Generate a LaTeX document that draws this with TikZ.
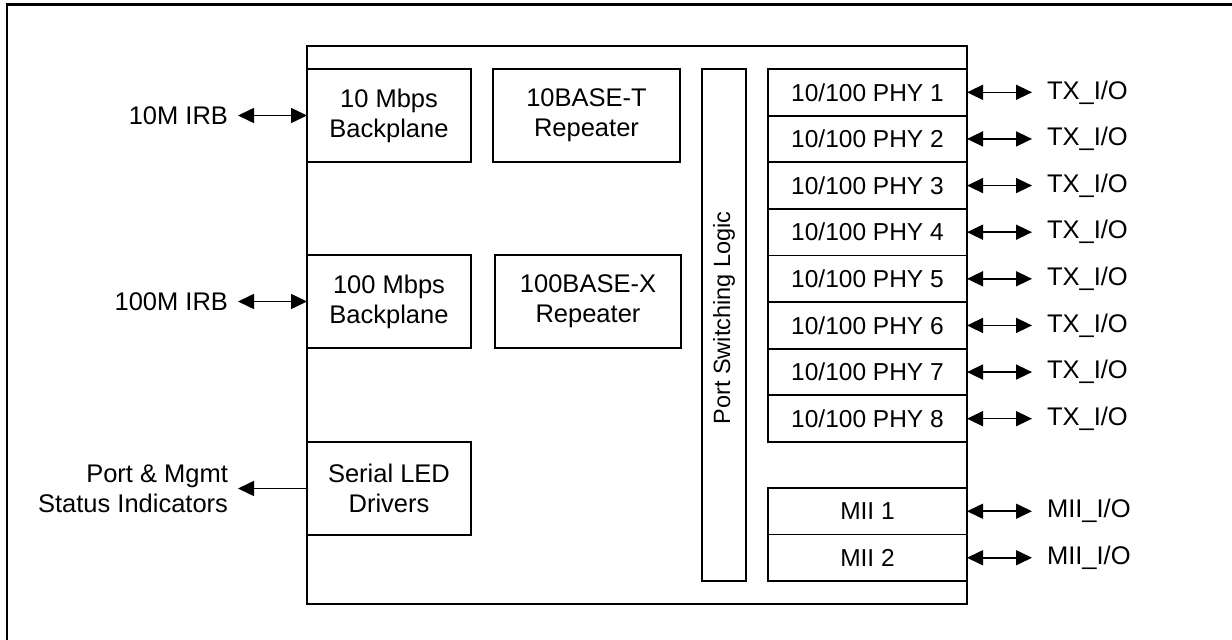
\documentclass[tikz,border=0pt]{standalone}
\usepackage{fontspec}
\setmainfont{Liberation Sans}
\usetikzlibrary{arrows.meta}
\begin{document}
\begin{tikzpicture}[x=1bp,y=-1bp,
  font=\fontsize{25.5bp}{30bp}\selectfont,
  blk/.style={draw, line width=1.8bp, inner sep=0pt, outer sep=0pt, align=center},
  boxfont/.style={font=\fontsize{24.5bp}{29.5bp}\selectfont},
  lbl/.style={inner ysep=2bp, outer sep=0pt},
  biarrow/.style={line width=1.6bp, {Triangle[length=16bp,width=15bp]}-{Triangle[length=16bp,width=15bp]}},
  outarrow/.style={line width=1.6bp, -{Triangle[length=16bp,width=15bp]}},
  frame/.style={line width=2.5bp}
]
\useasboundingbox (0,0) rectangle (1232,640);
% outer frame (only top and left visible)
\draw[frame] (7,641) -- (7,4.5) -- (1233,4.5);

% main chip box
\node[blk, minimum width=660bp, minimum height=558bp] (chip) at (637,325) {};

% left column blocks
\node[blk, minimum width=164bp, minimum height=93bp] (bp10) at (389,115.5) {10 Mbps\\Backplane};
\node[blk, minimum width=187bp, minimum height=93bp] (rep10) at (586.5,115.5) {10BASE-T\\Repeater};
\node[blk, minimum width=164bp, minimum height=93bp] (bp100) at (389,301.5) {100 Mbps\\Backplane};
\node[blk, minimum width=186bp, minimum height=93bp] (rep100) at (588,301.5) {100BASE-X\\Repeater};
\node[blk, minimum width=164bp, minimum height=93bp] (led) at (389,488.5) {Serial LED\\Drivers};

% port switching logic
\node[blk, minimum width=44bp, minimum height=512bp] (psl) at (724,325) {};
\node[rotate=90, inner sep=0pt, font=\fontsize{23.5bp}{28bp}\selectfont] (psltext) at (724,318) {Port Switching Logic};

% PHY blocks
\foreach \i in {1,...,8} {
  \pgfmathsetmacro{\yc}{69+46.625*(\i-0.5)}
  \node[blk, boxfont, minimum width=199bp, minimum height=46.625bp] (phy\i) at (867.5,\yc) {10/100 PHY \i};
  \node[lbl, anchor=west, inner xsep=15bp] (tx\i) at (1032,\yc) {TX\_I/O};
  \draw[biarrow] (phy\i.east) -- (tx\i.west);
}

% MII blocks
\node[blk, boxfont, minimum width=199bp, minimum height=46.5bp] (mii1) at (867.5,511.25) {MII 1};
\node[blk, boxfont, minimum width=199bp, minimum height=46.5bp] (mii2) at (867.5,557.75) {MII 2};
\node[lbl, anchor=west, inner xsep=15bp] (mio1) at (1032,511.25) {MII\_I/O};
\node[lbl, anchor=west, inner xsep=15bp] (mio2) at (1032,557.75) {MII\_I/O};
\draw[biarrow] (mii1.east) -- (mio1.west);
\draw[biarrow] (mii2.east) -- (mio2.west);

% left labels
\node[lbl, anchor=east, inner xsep=10bp] (irb10) at (238,115.5) {10M IRB};
\node[lbl, anchor=east, inner xsep=10bp] (irb100) at (238,301.5) {100M IRB};
\node[lbl, anchor=east, inner xsep=10bp, align=right] (status) at (238,488.5) {Port \& Mgmt\\Status Indicators};
\draw[biarrow] (irb10.east) -- (bp10.west);
\draw[biarrow] (irb100.east) -- (bp100.west);
\draw[outarrow] (led.west) -- (status.east);
\end{tikzpicture}
\end{document}
